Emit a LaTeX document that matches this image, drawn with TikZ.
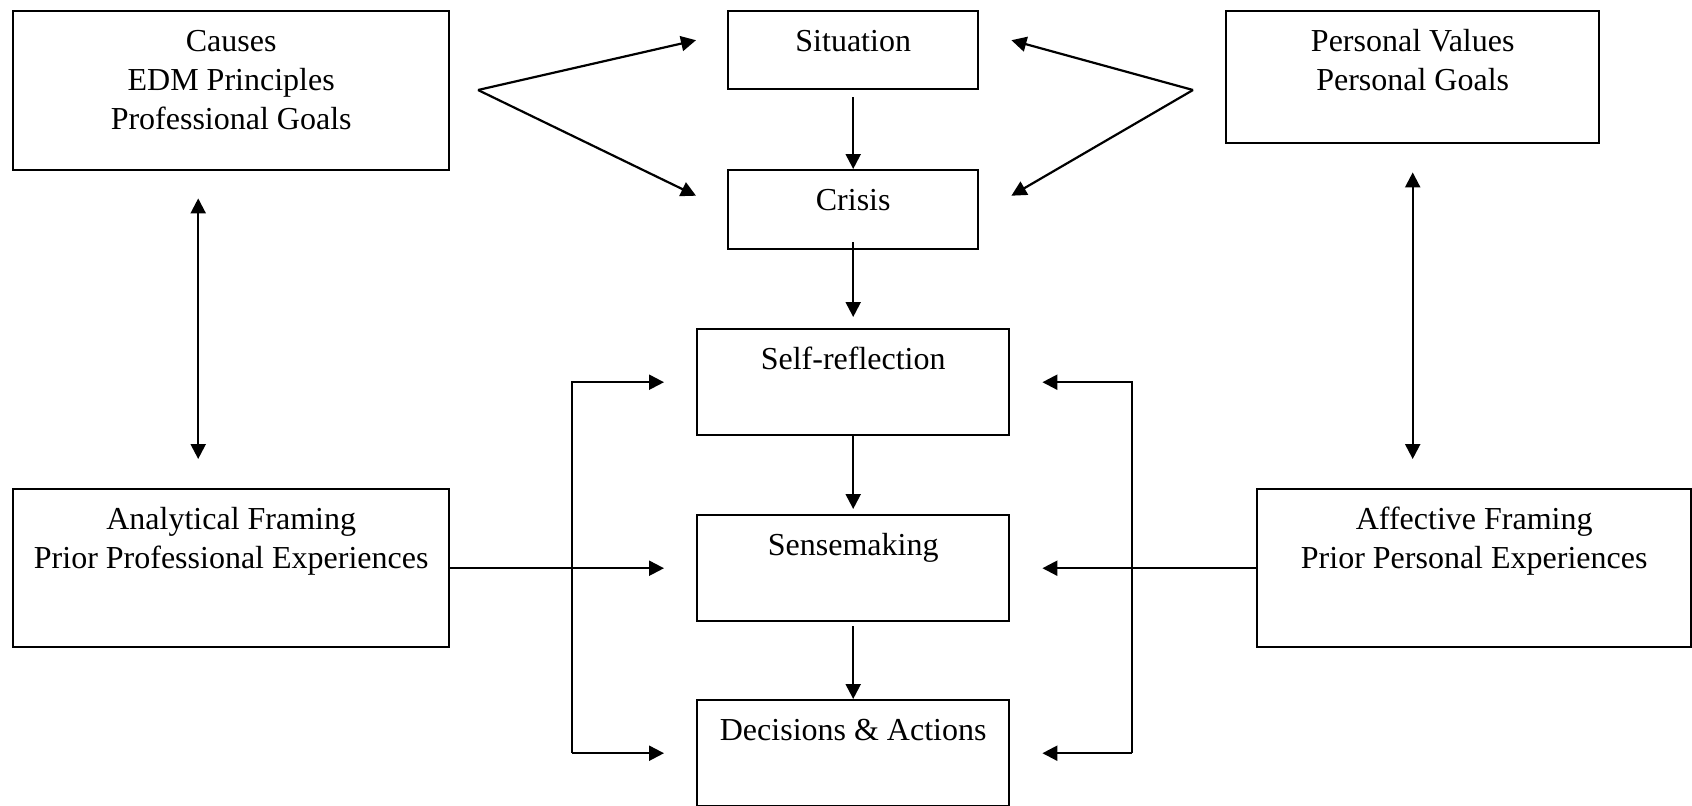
\documentclass[tikz,border=0pt]{standalone}
\usepackage{fontspec}
\setmainfont{Liberation Serif}
\usetikzlibrary{arrows.meta}

\begin{document}
\begin{tikzpicture}[x=0.5pt, y=-0.5pt, line width=1.1pt, >={Triangle[length=7.5pt,width=7.5pt]},
  box/.style={draw, line width=1.2pt, inner sep=0pt, anchor=north west},
  txt/.style={anchor=north, align=center, inner sep=0pt, yshift=-6.35pt, font=\fontsize{16}{19.5}\selectfont}]
\useasboundingbox (0,0) rectangle (1692,805);

% boxes
\node[box, minimum width=218pt, minimum height=79.5pt] (causes) at (12,10) {};
\node[box, minimum width=125pt, minimum height=39pt] (sit) at (727,10) {};
\node[box, minimum width=125pt, minimum height=39.5pt] (cri) at (727,169) {};
\node[box, minimum width=186.5pt, minimum height=66pt] (pers) at (1225,10) {};
\node[box, minimum width=156pt, minimum height=53pt] (self) at (696,328) {};
\node[box, minimum width=156pt, minimum height=53pt] (sense) at (696,514) {};
\node[box, minimum width=156pt, minimum height=53pt] (dec) at (696,699) {};
\node[box, minimum width=218pt, minimum height=79pt] (ana) at (12,488) {};
\node[box, minimum width=217pt, minimum height=79pt] (aff) at (1256,488) {};

% texts
\node[txt] (causes-t) at (causes.north) {\strut Causes\\EDM Principles\\Professional Goals};
\node[txt] (sit-t) at (sit.north) {\strut Situation};
\node[txt] (cri-t) at (cri.north) {\strut Crisis};
\node[txt] (pers-t) at (pers.north) {\strut Personal Values\\Personal Goals};
\node[txt] (self-t) at (self.north) {\strut Self-reflection};
\node[txt] (sense-t) at (sense.north) {\strut Sensemaking};
\node[txt] (dec-t) at (dec.north) {\strut Decisions \& Actions};
\node[txt] (ana-t) at (ana.north) {\strut Analytical Framing\\Prior Professional Experiences};
\node[txt] (aff-t) at (aff.north) {\strut Affective Framing\\Prior Personal Experiences};

% forks to situation and crisis
\coordinate (lf) at (478,90);
\coordinate (rf) at (1193,90);
\draw[->] (lf) -- ([shift={(-31,-10)}]sit.west);
\draw[->] (lf) -- ([shift={(-31,-14)}]cri.west);
\draw[->] (rf) -- ([shift={(32,-10)}]sit.east);
\draw[->] (rf) -- ([shift={(32,-14)}]cri.east);

% middle column
\draw[->] ([yshift=-3.5pt]sit.south) -- (cri.north);
\draw[->] ([yshift=4pt]cri.south) -- ([yshift=5.5pt]self.north);
\draw[->] (self.south) -- ([yshift=2.5pt]sense.north);
\draw[->] ([yshift=-2pt]sense.south) -- (dec.north);

% two-way links
\draw[<->] ([shift={(-33,27)}]causes.south) -- ([shift={(-33,-29)}]ana.north);
\draw[<->] ([yshift=-14pt]pers.south) -- ([yshift=14.5pt]pers.south |- aff.north);

% brackets
\coordinate (lbar) at (572,0);
\coordinate (rbar) at (1132,0);
\draw[->] (lbar |- dec.west) -- (lbar |- self.west) -- ([xshift=-16pt]self.west);
\draw[->] (lbar |- dec.west) -- ([xshift=-16pt]dec.west);
\draw[->] (ana.east) -- ([xshift=-16pt]sense.west);
\draw[->] (rbar |- dec.east) -- (rbar |- self.east) -- ([xshift=16pt]self.east);
\draw[->] (rbar |- dec.east) -- ([xshift=16pt]dec.east);
\draw[->] (aff.west) -- ([xshift=16pt]sense.east);
\end{tikzpicture}
\end{document}
